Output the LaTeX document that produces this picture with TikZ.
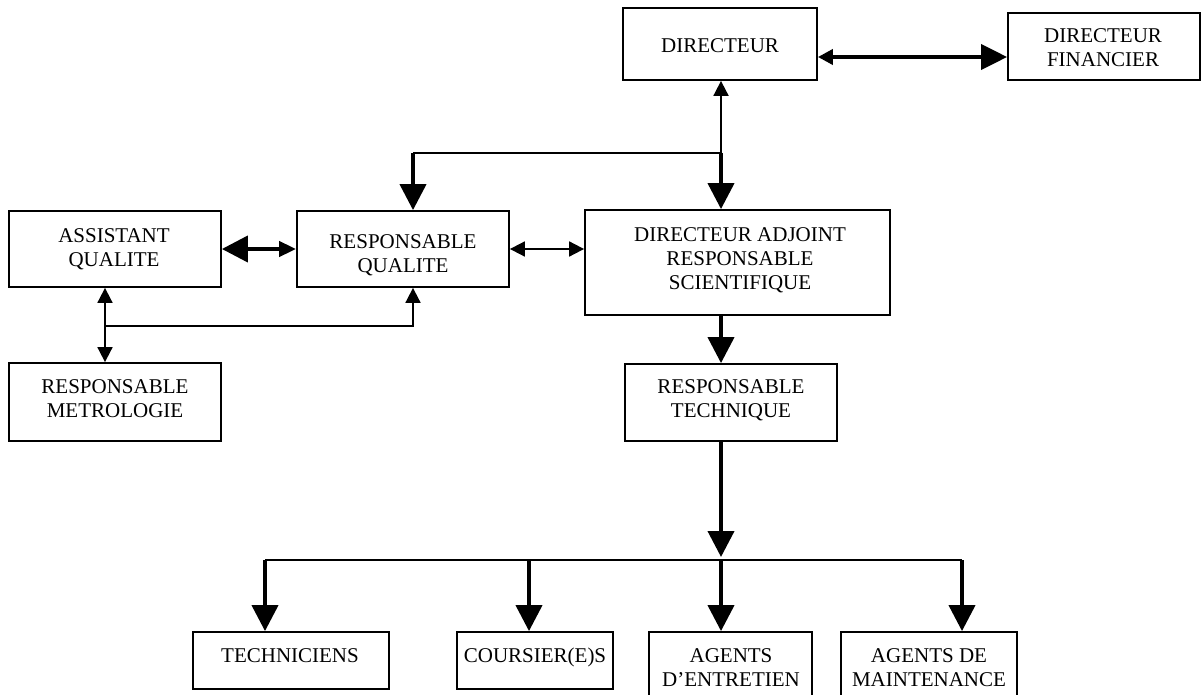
\documentclass[tikz,border=0pt]{standalone}
\usepackage{fontspec}
\setmainfont{Liberation Serif}
\usetikzlibrary{arrows.meta}
\begin{document}
\begin{tikzpicture}[x=1pt,y=-1pt,
  box/.style={draw, line width=1.8pt, inner sep=0pt},
  txt/.style={anchor=base, inner sep=0pt, text=black, font=\fontsize{21}{24}\selectfont},
  thk/.style={line width=4pt},
  med/.style={line width=2.2pt},
  thn/.style={line width=1.8pt},
  big/.tip={Triangle[length=26pt,width=26pt]},
  sml/.tip={Triangle[length=15pt,width=15pt]}
]
\useasboundingbox (0,0) rectangle (1201,695);

% boxes
\node[box, minimum width=194pt, minimum height=72pt] (dir)  at (720,44) {};
\node[box, minimum width=192pt, minimum height=67pt] (fin)  at (1104,46.5) {};
\node[box, minimum width=212pt, minimum height=76pt] (aq)   at (115,249) {};
\node[box, minimum width=212pt, minimum height=76pt] (rq)   at (403,249) {};
\node[box, minimum width=305pt, minimum height=105pt] (da)  at (737.5,262.5) {};
\node[box, minimum width=212pt, minimum height=78pt] (met)  at (115,402) {};
\node[box, minimum width=212pt, minimum height=77pt] (rt)   at (731,402.5) {};
\node[box, minimum width=196pt, minimum height=57pt] (tech) at (291,660.5) {};
\node[box, minimum width=156pt, minimum height=57pt] (cour) at (535,660.5) {};
\node[box, minimum width=163pt, minimum height=88pt] (agen) at (730.5,676) {};
\node[box, minimum width=176pt, minimum height=88pt] (agma) at (929,676) {};

% texts
\node[txt] (tdir)  at (720,53)  {DIRECTEUR};
\node[txt] (tfin)  at (1103,43) {\begin{tabular}[t]{@{}c@{}}DIRECTEUR\\FINANCIER\end{tabular}};
\node[txt] (taq)   at (114,242) {\begin{tabular}[t]{@{}c@{}}ASSISTANT\\QUALITE\end{tabular}};
\node[txt] (trq)   at (403,248) {\begin{tabular}[t]{@{}c@{}}RESPONSABLE\\QUALITE\end{tabular}};
\node[txt] (tda)   at (740,241) {\begin{tabular}[t]{@{}c@{}}DIRECTEUR ADJOINT\\RESPONSABLE\\SCIENTIFIQUE\end{tabular}};
\node[txt] (tmet)  at (115,393) {\begin{tabular}[t]{@{}c@{}}RESPONSABLE\\METROLOGIE\end{tabular}};
\node[txt] (trt)   at (731,393) {\begin{tabular}[t]{@{}c@{}}RESPONSABLE\\TECHNIQUE\end{tabular}};
\node[txt] (ttech) at (290,662) {TECHNICIENS};
\node[txt] (tcour) at (535,662) {COURSIER(E)S};
\node[txt] (tagen) at (731,662) {\begin{tabular}[t]{@{}c@{}}AGENTS\\D’ENTRETIEN\end{tabular}};
\node[txt] (tagma) at (929,662) {\begin{tabular}[t]{@{}c@{}}AGENTS DE\\MAINTENANCE\end{tabular}};

% helper coordinates
\coordinate (y57) at (0,57);
\coordinate (j1) at (721,153);
\coordinate (j2) at (413,153);
\coordinate (j3) at (105,326);
\coordinate (j4) at (413,326);
\coordinate (b0) at (265,560);
\coordinate (b1) at (529,560);
\coordinate (b2) at (721,560);
\coordinate (b3) at (962,560);
\coordinate (b2t) at (721,557);

% connectors
\draw[thk, {Triangle[length=15pt,width=15pt]}-{Triangle[length=26pt,width=25pt]}]
  (dir.east |- y57) -- (fin.west |- y57);
\draw[thn, {sml}-] (j1 |- dir.south) -- (j1);
\draw[med] (j2) -- (j1);
\draw[thk, -{big}] (j2) -- (j2 |- rq.north);
\draw[thk, -{big}] (j1) -- (j1 |- da.north);

\draw[thk, {Triangle[length=26pt,width=26pt]}-{Triangle[length=17pt,width=15pt]}]
  (aq.east) -- (rq.west);
\draw[thn, {sml}-{sml}] (rq.east) -- (da.west |- rq.east);

\draw[thn, {sml}-{sml}] (j3 |- aq.south) -- (j3 |- met.north);
\draw[thn, -{sml}] (j3) -- (j4) -- (j4 |- rq.south);

\draw[thk, -{big}] (j1 |- da.south) -- (j1 |- rt.north);
\draw[thk, -{big}] (j1 |- rt.south) -- (b2t);

\draw[med] (b0) -- (b3);
\draw[thk, -{big}] (b0) -- (b0 |- tech.north);
\draw[thk, -{big}] (b1) -- (b1 |- cour.north);
\draw[thk, -{big}] (b2) -- (b2 |- agen.north);
\draw[thk, -{big}] (b3) -- (b3 |- agma.north);
\end{tikzpicture}
\end{document}
